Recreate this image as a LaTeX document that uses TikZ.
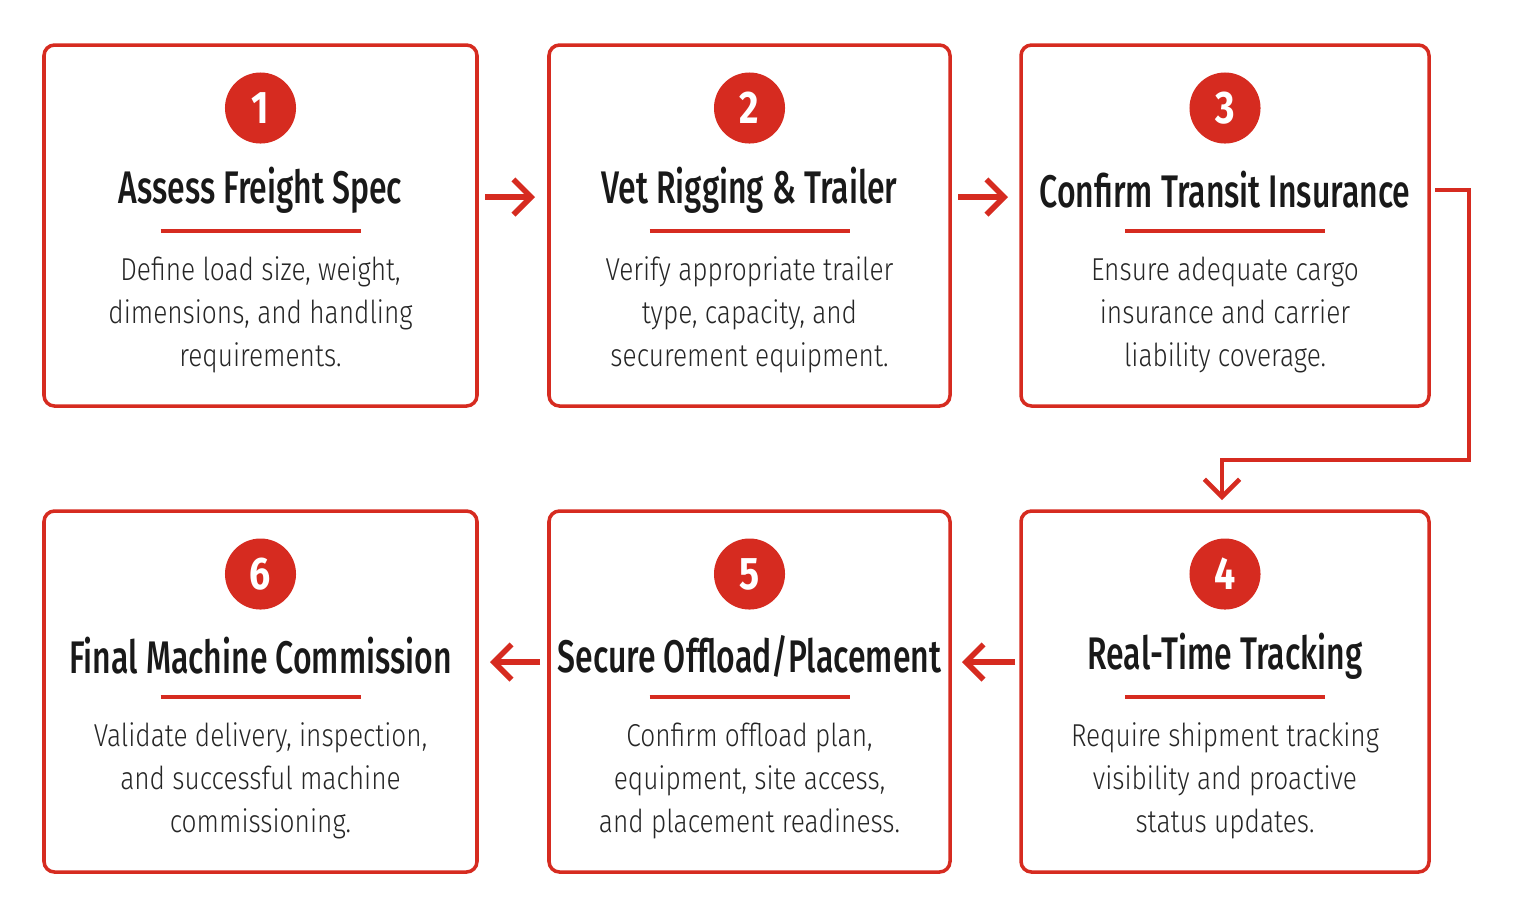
\documentclass[tikz,border=0pt]{standalone}
\usepackage{fontspec}
\setmainfont{Fira Sans}[FakeStretch=0.82]
\newfontfamily\titlef{Fira Sans Medium}[FakeStretch=0.7]
\newfontfamily\bodyf{Fira Sans Light}[FakeStretch=0.83]
\usetikzlibrary{arrows.meta}
\definecolor{rd}{HTML}{D62B20}
\begin{document}
\begin{tikzpicture}[x=0.01cm,y=-0.01cm,
 box/.style={draw=rd,line width=1pt,rounded corners=3pt},
 num/.style={circle,fill=rd,minimum size=0.71cm,inner sep=0pt,text=white,font=\bfseries\fontsize{13}{13}\selectfont},
 ttl/.style={font=\titlef\fontsize{13}{14}\selectfont,text=black!90},
 body/.style={align=center,font=\bodyf\fontsize{9}{12.2}\selectfont,text=black!85},
 arr/.style={draw=rd,line width=1.6pt,-{Straight Barb[length=5pt,width=10pt]}}]
\useasboundingbox (0,0) rectangle (1515,923);
\fill[white] (0,0) rectangle (1515,923);
\newcommand\stepbox[8]{%
 \draw[box] (#1,#3) rectangle (#2,#3+361);
 \coordinate (#8) at ({(#1+#2)/2},#3);
 \node[num] at ({(#1+#2)/2},#3+63) {#4};
 \node[ttl] at ({(#1+#2)/2},#3+145) {#5};
 \draw[rd,line width=0.9pt] ({(#1+#2)/2-100},#3+186) -- ({(#1+#2)/2+100},#3+186);
 \node[body] at ({(#1+#2)/2},#3+270) {#6\\#7};
}
\stepbox{44}{477}{45}{1}{Assess Freight Spec}{Define load size, weight,\\dimensions, and handling}{requirements.}{b1}
\stepbox{549}{950}{45}{2}{Vet Rigging \& Trailer}{Verify appropriate trailer\\type, capacity, and}{securement equipment.}{b2}
\stepbox{1021}{1429}{45}{3}{Confirm Transit Insurance}{Ensure adequate cargo\\insurance and carrier}{liability coverage.}{b3}
\stepbox{1021}{1429}{511}{4}{Real-Time Tracking}{Require shipment tracking\\visibility and proactive}{status updates.}{b4}
\stepbox{549}{950}{511}{5}{Secure Offload/Placement}{Confirm offload plan,\\equipment, site access,}{and placement readiness.}{b5}
\stepbox{44}{477}{511}{6}{Final Machine Commission}{Validate delivery, inspection,\\and successful machine}{commissioning.}{b6}
\coordinate (a1s) at (485,197); \coordinate (a1e) at (535,197);
\coordinate (a2s) at (958,197); \coordinate (a2e) at (1008,197);
\coordinate (a3s) at (540,662); \coordinate (a3e) at (490,662);
\coordinate (a4s) at (1015,662); \coordinate (a4e) at (962,662);
\draw[arr] (a1s) -- (a1e);
\draw[arr] (a2s) -- (a2e);
\draw[arr] (a3s) -- (a3e);
\draw[arr] (a4s) -- (a4e);
\coordinate (c0) at (1435,190); \coordinate (c1) at (1222,500);
\draw[arr,line width=1.3pt] (c0) -- (1469,190) -- (1469,460) -- (1222,460) -- (c1);
\end{tikzpicture}
\end{document}
